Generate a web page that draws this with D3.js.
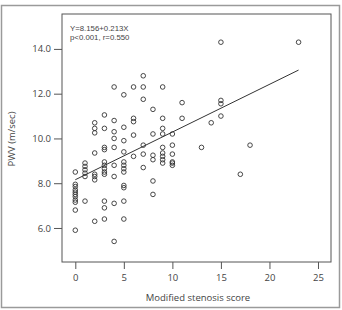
<!DOCTYPE html>
<html>
<head>
<meta charset="utf-8">
<script src="https://cdn.jsdelivr.net/npm/d3@7"></script>
<style>
  body { margin: 0; background: #fff; }
  svg text { font-family: "Open Sans", "DejaVu Sans", sans-serif; fill: #444; }
</style>
</head>
<body>
<div id="figure-holder"></div>
<script>
// modified stenosis score (x) and PWV in m/sec (y)
const score = [
    0, 0, 0, 0, 0, 0, 0, 0, 0, 0, 0,
    1, 1, 1, 1, 1, 1,
    2, 2, 2, 2, 2, 2, 2, 2,
    3, 3, 3, 3, 3, 3, 3, 3, 3, 3, 3, 3,
    4, 4, 4, 4, 4, 4, 4, 4, 4,
    5, 5, 5, 5, 5, 5, 5, 5, 5, 5, 5, 5,
    6, 6, 6, 6, 6,
    7, 7, 7, 7, 7, 7,
    8, 8, 8, 8, 8, 8,
    9, 9, 9, 9, 9, 9, 9, 9, 9,
    10, 10, 10, 10, 10, 10,
    11, 11,
    13, 14,
    15, 15, 15, 15,
    17, 18, 23
]
const pwv = [
    8.5, 7.95, 7.85, 7.7, 7.6, 7.5, 7.4, 7.25, 7.15, 6.8, 5.9,
    8.9, 8.75, 8.6, 8.45, 8.3, 7.2,
    10.7, 10.45, 10.25, 9.35, 8.4, 8.3, 8.15, 6.3,
    11.05, 10.45, 9.6, 9.5, 8.95, 8.8, 8.65, 8.5, 8.4, 7.2, 6.9, 6.4,
    12.3, 10.8, 10.3, 10.0, 9.6, 8.8, 8.3, 7.1, 5.4,
    11.95, 10.5, 9.9, 9.4, 8.95, 8.8, 8.65, 8.5, 7.9, 7.8, 7.2, 6.4,
    12.3, 10.9, 10.75, 10.15, 9.2,
    12.8, 12.3, 11.75, 9.7, 9.3, 8.7,
    11.3, 10.2, 9.25, 9.05, 8.1, 7.5,
    12.3, 10.9, 10.45, 10.2, 9.6, 9.35, 9.2, 9.05, 8.9,
    10.2, 9.7, 9.3, 8.95, 8.9, 8.8,
    11.6, 10.9,
    9.6, 10.7,
    14.3, 11.7, 11.55, 11.0,
    8.4, 9.7, 14.3
]
const xTicks = [0, 5, 10, 15, 20, 25]
const yTicks = [6, 8, 10, 12, 14]
const fit = { a: 8.156, b: 0.213, from: 0, to: 23 }
const notes = ['Y=8.156+0.213X', 'p<0.001, r=0.550']

const W = 342, H = 310
const frame = { left: 62, top: 14, right: 331, bottom: 262 }

const svg = d3.select('#figure-holder').append('svg')
    .attr('width', W)
    .attr('height', H)

// outer border of the figure
svg.append('rect')
    .attr('x', 1.5).attr('y', 5.5)
    .attr('width', 338).attr('height', 302)
    .attr('fill', 'none')
    .attr('stroke', '#9a9a9a')
    .attr('stroke-width', 1.5)

const x = d3.scaleLinear()
    .domain([-1.37, 26.34])
    .range([frame.left, frame.right])

const y = d3.scaleLinear()
    .domain([4.48, 15.56])
    .range([frame.bottom, frame.top])

// plot frame
svg.append('rect')
    .attr('x', frame.left).attr('y', frame.top)
    .attr('width', frame.right - frame.left)
    .attr('height', frame.bottom - frame.top)
    .attr('fill', 'none')
    .attr('stroke', '#555')
    .attr('stroke-width', 1)

// axes
const xAxis = svg.append('g')
    .attr('id', 'x-axis')
    .attr('transform', `translate(0, ${frame.bottom})`)
    .call(d3.axisBottom(x).tickValues(xTicks).tickFormat(d3.format('d')).tickSize(7).tickPadding(5))

const yAxis = svg.append('g')
    .attr('id', 'y-axis')
    .attr('transform', `translate(${frame.left}, 0)`)
    .call(d3.axisLeft(y).tickValues(yTicks).tickFormat(d3.format('.1f')).tickSize(8).tickPadding(3))

svg.selectAll('#x-axis .domain, #y-axis .domain').remove()
svg.selectAll('#x-axis line, #y-axis line').attr('stroke', '#555')
svg.selectAll('#x-axis text, #y-axis text')
    .style('font-size', '9.5px')
    .style('font-family', '"Open Sans", sans-serif')
    .attr('fill', '#555')

// axis titles
svg.append('text')
    .text('Modified stenosis score')
    .attr('x', 198)
    .attr('y', 301)
    .attr('text-anchor', 'middle')
    .style('font-size', '9.5px')

svg.append('text')
    .text('PWV (m/sec)')
    .attr('transform', 'translate(15, 139) rotate(-90)')
    .attr('text-anchor', 'middle')
    .style('font-size', '9.5px')

// regression line
svg.append('line')
    .attr('x1', x(fit.from)).attr('y1', y(fit.a + fit.b * fit.from))
    .attr('x2', x(fit.to)).attr('y2', y(fit.a + fit.b * fit.to))
    .attr('stroke', '#333')
    .attr('stroke-width', 1)

// points
svg.append('g').selectAll('circle')
    .data(score.map((s, i) => [s, pwv[i]]))
    .join('circle')
    .attr('cx', d => x(d[0]))
    .attr('cy', d => y(d[1]))
    .attr('r', 2.3)
    .attr('fill', 'none')
    .attr('stroke', '#333')
    .attr('stroke-width', 0.9)

// equation text
svg.selectAll('.note')
    .data(notes)
    .join('text')
    .attr('class', 'note')
    .text(d => d)
    .attr('x', 70)
    .attr('y', (d, i) => 30.5 + i * 9.3)
    .style('font-family', '"Liberation Sans", Arial, sans-serif')
    .style('font-size', '7.8px')
</script>
</body>
</html>
